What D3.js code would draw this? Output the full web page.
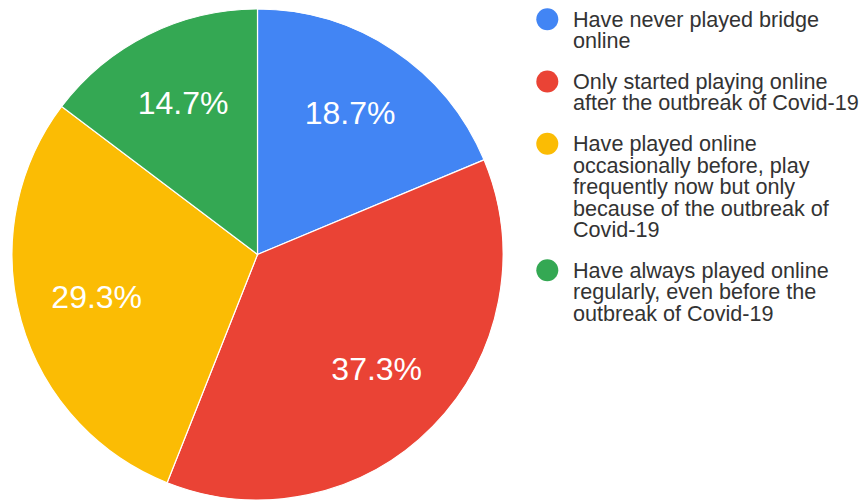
<!DOCTYPE html>
<html>
<head>
<meta charset="utf-8">
<script src="https://cdn.jsdelivr.net/npm/d3@7"></script>
<style>
  html, body { margin: 0; padding: 0; background: #fff; }
  svg { display: block; }
  text { font-family: Arial, "Liberation Sans", sans-serif; }
</style>
</head>
<body>
<svg id="chart" width="865" height="501"></svg>
<script>
const categories = [
  ["Have never played bridge", "online"],
  ["Only started playing online", "after the outbreak of Covid-19"],
  ["Have played online", "occasionally before, play", "frequently now but only", "because of the outbreak of", "Covid-19"],
  ["Have always played online", "regularly, even before the", "outbreak of Covid-19"]
];
const values = [18.7, 37.3, 29.3, 14.7];
const colors = ["#4285f4", "#ea4335", "#fbbc04", "#34a853"];

const svg = d3.select("#chart");
const cx = 257.5, cy = 254.5, R = 245.5;

const pie = d3.pie().sort(null).value(d => d);
const arcs = pie(values);
const arc = d3.arc().innerRadius(0).outerRadius(R);
const labelArc = d3.arc().innerRadius(167).outerRadius(167);

const g = svg.append("g").attr("transform", `translate(${cx},${cy})`);
g.selectAll("path.slice")
  .data(arcs)
  .join("path")
  .attr("class", "slice")
  .attr("d", arc)
  .attr("fill", (d, i) => colors[i])
  .attr("stroke", "#fff")
  .attr("stroke-width", 1.2);

const total = d3.sum(values);
g.selectAll("text.pct")
  .data(arcs)
  .join("text")
  .attr("class", "pct")
  .attr("transform", d => { const c = labelArc.centroid(d); return `translate(${c[0]},${c[1] - 3})`; })
  .attr("text-anchor", "middle")
  .attr("dy", "0.36em")
  .attr("fill", "#fff")
  .style("font-size", "32px")
  .text(d => (d.data / total * 100).toFixed(1) + "%");

// legend
const fs = 21.6, lh = 21.4, gap = 19.5;
const leg = svg.append("g");
let y = 26.7;
categories.forEach((lines, i) => {
  leg.append("circle")
    .attr("cx", 547.3)
    .attr("cy", y - 7.5)
    .attr("r", 11)
    .attr("fill", colors[i]);
  const t = leg.append("text")
    .attr("x", 573)
    .attr("y", y)
    .attr("fill", "#333")
    .style("font-size", fs + "px");
  lines.forEach((ln, j) => {
    t.append("tspan").attr("x", 573).attr("y", y + j * lh).text(ln);
  });
  y += lines.length * lh + gap;
});
</script>
</body>
</html>
